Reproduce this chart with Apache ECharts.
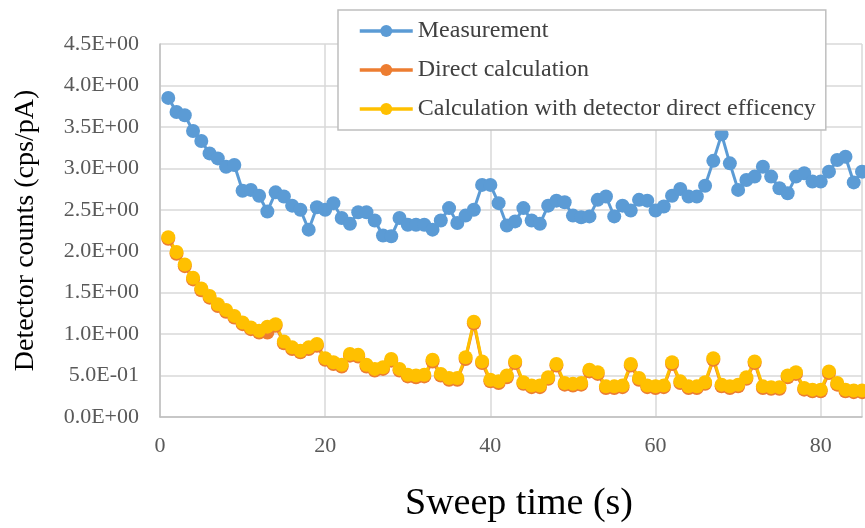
<!DOCTYPE html>
<html>
<head>
<meta charset="utf-8">
<script src="https://cdn.jsdelivr.net/npm/echarts@6/dist/echarts.min.js"></script>
<style>html,body{margin:0;padding:0;background:#fff}#c{width:865px;height:528px}</style>
</head>
<body>
<div id="c"></div>
<script>
var sweepTime = [1,2,3,4,5,6,7,8,9,10,11,12,13,14,15,16,17,18,19,20,21,22,23,24,25,26,27,28,29,30,31,32,33,34,35,36,37,38,39,40,41,42,43,44,45,46,47,48,49,50,51,52,53,54,55,56,57,58,59,60,61,62,63,64,65,66,67,68,69,70,71,72,73,74,75,76,77,78,79,80,81,82,83,84,85];
var measurement = [3.85,3.68,3.64,3.45,3.33,3.18,3.12,3.02,3.04,2.73,
2.74,2.67,2.48,2.71,2.66,2.55,2.50,2.26,2.53,2.50,
2.58,2.40,2.33,2.47,2.47,2.37,2.19,2.18,2.40,2.32,
2.32,2.32,2.26,2.37,2.52,2.34,2.43,2.50,2.80,2.80,
2.58,2.31,2.36,2.52,2.37,2.33,2.55,2.61,2.59,2.43,
2.41,2.42,2.62,2.66,2.42,2.55,2.49,2.62,2.61,2.49,
2.54,2.67,2.75,2.66,2.66,2.79,3.09,3.41,3.06,2.74,
2.86,2.90,3.02,2.90,2.76,2.70,2.90,2.94,2.84,2.84,
2.96,3.10,3.14,2.83,2.96];
var directCalculation = [2.15,1.97,1.82,1.66,1.53,1.44,1.34,1.27,1.20,1.12,
1.06,1.02,1.02,1.10,0.89,0.82,0.78,0.82,0.86,0.69,
0.64,0.61,0.74,0.73,0.61,0.56,0.58,0.68,0.56,0.49,
0.48,0.49,0.67,0.50,0.45,0.45,0.70,1.13,0.65,0.43,
0.41,0.48,0.65,0.40,0.36,0.36,0.46,0.62,0.39,0.38,
0.39,0.55,0.52,0.35,0.35,0.36,0.62,0.45,0.36,0.35,
0.36,0.64,0.41,0.35,0.35,0.40,0.69,0.37,0.35,0.37,
0.46,0.65,0.35,0.34,0.34,0.48,0.52,0.33,0.31,0.31,
0.53,0.39,0.31,0.30,0.30];
var detectorEfficiencyCalc = [2.17,1.99,1.84,1.68,1.55,1.46,1.36,1.29,1.22,1.14,
1.08,1.04,1.09,1.12,0.91,0.84,0.80,0.84,0.88,0.71,
0.66,0.63,0.76,0.75,0.63,0.58,0.60,0.70,0.58,0.51,
0.50,0.51,0.69,0.52,0.47,0.47,0.72,1.15,0.67,0.45,
0.43,0.50,0.67,0.42,0.38,0.38,0.48,0.64,0.41,0.40,
0.41,0.57,0.54,0.37,0.37,0.38,0.64,0.47,0.38,0.37,
0.38,0.66,0.43,0.37,0.37,0.42,0.71,0.39,0.37,0.39,
0.48,0.67,0.37,0.36,0.36,0.50,0.54,0.35,0.33,0.33,
0.55,0.41,0.33,0.32,0.32];
var seriesNames = ['Measurement','Direct calculation','Calculation with detector direct efficency'];
var yTickValues = [0,0.5,1,1.5,2,2.5,3,3.5,4,4.5];
var yTickLabels = ['0.0E+00','5.0E-01','1.0E+00','1.5E+00','2.0E+00','2.5E+00','3.0E+00','3.5E+00','4.0E+00','4.5E+00'];
var xTickLabels = ['0','20','40','60','80'];

function pairs(vals){ return sweepTime.map(function(t,i){ return [t, vals[i]]; }); }
var font = 'Liberation Serif';
var colors = ['#5B9BD5','#ED7D31','#FFC000'];
function mkSeries(name, vals, color){
  return {name:name, type:'line', data:pairs(vals), symbol:'circle', symbolSize:14,
    lineStyle:{color:color,width:3}, itemStyle:{color:color}, clip:false, animation:false};
}
var chart = echarts.init(document.getElementById('c'), null, {renderer:'canvas'});
chart.setOption({
  backgroundColor:'#fff',
  animation:false,
  color: colors,
  grid:{left:160, right:0, top:44, bottom:110, containLabel:false},
  legend:{
    orient:'vertical', left:338, top:10,
    padding:[8,10,8,20], itemGap:13, itemWidth:53, itemHeight:15,
    backgroundColor:'#fff', borderColor:'#bfbfbf', borderWidth:1.5,
    lineStyle:{width:3.5},
    textStyle:{fontFamily:font, fontSize:24, color:'#404040', lineHeight:26},
    data: seriesNames
  },
  xAxis:{
    type:'value', min:0, max:85, interval:20,
    name:'Sweep time (s)', nameLocation:'middle', nameGap:68,
    nameTextStyle:{fontFamily:font, fontSize:38, color:'#000', padding:[0,0,0,16]},
    axisLine:{show:true, lineStyle:{color:'#bfbfbf', width:1.5}},
    axisTick:{show:false},
    axisLabel:{fontFamily:font, fontSize:22, color:'#595959', margin:18,
      formatter:function(v){ var i = xTickLabels.indexOf(String(v)); return i>=0 ? xTickLabels[i] : ''; }},
    splitLine:{show:true, lineStyle:{color:'#d9d9d9', width:1.5}}
  },
  yAxis:{
    type:'value', min:0, max:4.5, interval:0.5,
    name:'Detector counts (cps/pA)', nameLocation:'middle', nameGap:120,
    nameTextStyle:{fontFamily:font, fontSize:28, color:'#000'},
    axisLine:{show:true, lineStyle:{color:'#bfbfbf', width:1.5}},
    axisTick:{show:false},
    axisLabel:{fontFamily:font, fontSize:22, color:'#595959', margin:21,
      formatter:function(v){ for (var i=0;i<yTickValues.length;i++){ if (Math.abs(yTickValues[i]-v)<1e-9) return yTickLabels[i]; } return ''; }},
    splitLine:{show:true, lineStyle:{color:'#d9d9d9', width:1.5}}
  },
  series:[
    mkSeries(seriesNames[0], measurement, colors[0]),
    mkSeries(seriesNames[1], directCalculation, colors[1]),
    mkSeries(seriesNames[2], detectorEfficiencyCalc, colors[2])
  ]
});
</script>
</body>
</html>
